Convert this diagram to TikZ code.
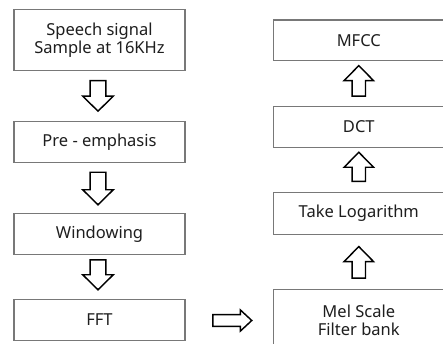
\documentclass[tikz,border=0pt]{standalone}
\usepackage{fontspec}
\setmainfont{Noto Sans}
\usetikzlibrary{calc}
\definecolor{boxgray}{RGB}{120,120,120}
\definecolor{txt}{RGB}{30,30,30}
\tikzset{
  box/.style={draw=boxgray, line width=1.1pt, minimum width=171pt, inner sep=0pt,
    align=center, text=txt, font=\fontsize{16.5}{18}\selectfont},
  blk/.style={draw=black, fill=white, line width=1.45pt, line join=miter}
}
\newcommand\blkdown[2]{\draw[blk] let \p1=#1, \p2=#2 in
  (\x1-7.8pt,\y1) -- (\x1+7.8pt,\y1) -- (\x1+7.8pt,\y2+15pt) -- (\x1+15.3pt,\y2+15pt)
  -- (\x1,\y2) -- (\x1-15.3pt,\y2+15pt) -- (\x1-7.8pt,\y2+15pt) -- cycle;}
\newcommand\blkup[2]{\draw[blk] let \p1=#1, \p2=#2 in
  (\x1-6.7pt,\y1) -- (\x1+6.7pt,\y1) -- (\x1+6.7pt,\y2-15pt) -- (\x1+14.7pt,\y2-15pt)
  -- (\x1,\y2) -- (\x1-14.7pt,\y2-15pt) -- (\x1-6.7pt,\y2-15pt) -- cycle;}
\newcommand\blkright[2]{\draw[blk] let \p1=#1, \p2=#2 in
  (\x1,\y1+5.8pt) -- (\x2-11.3pt,\y1+5.8pt) -- (\x2-11.3pt,\y1+10.5pt) -- (\x2,\y1)
  -- (\x2-11.3pt,\y1-10.5pt) -- (\x2-11.3pt,\y1-5.8pt) -- (\x1,\y1-5.8pt) -- cycle;}
\begin{document}
\begin{tikzpicture}[x=1pt,y=-1pt]
\useasboundingbox (0,0) rectangle (443,344);
\clip (0,0) rectangle (443,344);
\fill[white] (0,0) rectangle (443,344);
% left column
\node[box, minimum height=61.4pt] (sig) at (99.5,40) {Speech signal\\Sample at 16KHz};
\node[box, minimum height=41pt] (pre) at (99.5,142.2) {Pre - emphasis};
\node[box, minimum height=40.6pt] (win) at (99.5,234) {Windowing};
\node[box, minimum height=40.6pt] (fft) at (99.5,320) {FFT};
% right column
\node[box, minimum height=40.7pt] (mfcc) at (358.8,40.4) {MFCC};
\node[box, minimum height=40.6pt] (dct) at (358.8,127) {DCT};
\node[box, minimum height=41.6pt] (log) at (358.8,213.5) {Take Logarithm};
\node[box, minimum height=61.4pt] (mel) at (358.8,320) {Mel Scale\\Filter bank};
% block arrows
\blkdown{($(sig.south)+(-1.5,9.3)$)}{($(pre.north)+(-1.5,-10)$)}
\blkdown{($(pre.south)+(-1.5,9)$)}{($(win.north)+(-1.5,-8.4)$)}
\blkdown{($(win.south)+(-1.5,5)$)}{($(fft.north)+(-1.5,-9.4)$)}
\blkright{($(fft.east)+(27.3,0.5)$)}{($(mel.west)+(-21,0.5)$)}
\blkup{($(mel.north)+(0,-10.6)$)}{($(log.south)+(0,11.7)$)}
\blkup{($(log.north)+(0,-10.7)$)}{($(dct.south)+(0,4.4)$)}
\blkup{($(dct.north)+(0,-10)$)}{($(mfcc.south)+(0,4.3)$)}
\end{tikzpicture}
\end{document}
